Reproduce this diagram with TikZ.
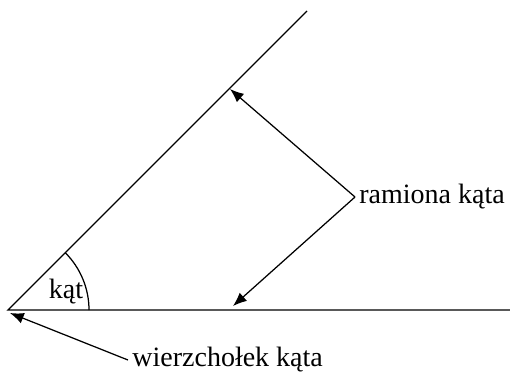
\documentclass[tikz,border=0pt]{standalone}
\usepackage{fontspec}
\setmainfont{Liberation Serif}
\usetikzlibrary{arrows.meta,positioning}

\begin{document}
\begin{tikzpicture}[x=0.4pt,y=0.4pt,>={Latex[length=5.5pt,width=4.4pt]},font=\fontsize{11.2}{13}\selectfont,line width=0.5pt]

\tikzset{
lbl/.style={inner sep=1.5pt},
a/.style={->}
}

\useasboundingbox (0,0) rectangle (510,376);

% the angle
\coordinate (vertex) at (8,66);
\coordinate (armtop) at (307,365);
\coordinate (armend) at (510,66);
\draw (armtop) -- (vertex) -- (armend);
\draw (89,66) arc[start angle=0,end angle=45,radius=81];
\node[lbl] (angle) at (66,84) {kąt};

% labels
\node[lbl,anchor=west] (arms) at (355,179) {ramiona kąta};
\node[lbl,anchor=west] (apex) at (128,16) {wierzchołek kąta};

\coordinate (armhit) at (230,287);
\coordinate (basehit) at (233,70);
\coordinate (vertexhit) at (10,63);

\draw[a] (arms.west) -- (armhit);
\draw[a] (arms.west) -- (basehit);
\draw[a] (apex.west) -- (vertexhit);

\end{tikzpicture}
\end{document}
